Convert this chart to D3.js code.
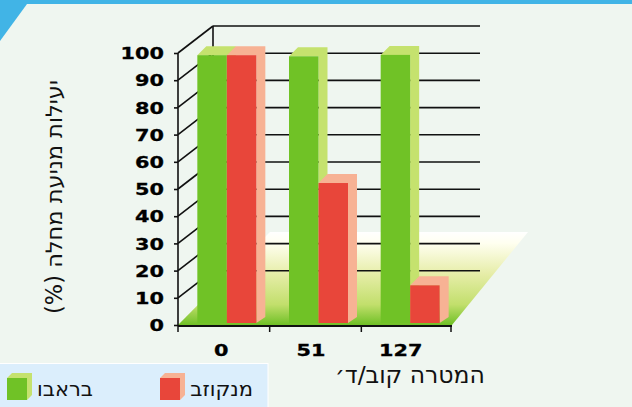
<!DOCTYPE html>
<html><head><meta charset="utf-8">
<script src="https://cdnjs.cloudflare.com/ajax/libs/d3/7.8.5/d3.min.js"></script>
<style>html,body{margin:0;padding:0;background:#eff6f0;overflow:hidden}svg{display:block}</style>
</head><body><svg id="c" width="632" height="407"></svg>
<script>
const categories = ["0", "51", "127"];
const seriesNames = ["בראבו", "מנקוזב"];
const bravo = [99.2, 98.8, 99.3];
const mancozeb = [99.2, 52.2, 14.6];
const yTicks = [0,10,20,30,40,50,60,70,80,90,100];
const yTitle = "יעילות מניעת מחלה (%)";
const xTitle = "המטרה קוב/ד׳";
const frontColors = ["#70c226", "#e8463a"];
const sideColors = ["#c5e26e", "#f7b294"];

const svg = d3.select("#c");
const font = "'DejaVu Sans', sans-serif";
const dx = 35, dy = 27, depth = 9;
const y = d3.scaleLinear().domain([0,100]).range([325,53]);
const x = d3.scaleBand().domain(categories).range([181,456]);
const inner = d3.scaleBand().domain([0,1]).range([x.bandwidth()/2-29.5, x.bandwidth()/2+29.5]);

// page chrome
svg.append("rect").attr("width",632).attr("height",407).attr("fill","#eff6f0");
svg.append("rect").attr("width",632).attr("height",4).attr("fill","#41b4e6");
svg.append("path").attr("d",d3.line()([[0,0],[27,0],[27,4],[0,41]])).attr("fill","#41b4e6");

// floor
const grad = svg.append("defs").append("linearGradient").attr("id","floor").attr("x1",0).attr("x2",0).attr("y1",0).attr("y2",1);
[[0,"#ffffff"],[0.12,"#fffff0"],[0.45,"#e6eda8"],[0.78,"#c2df6c"],[1,"#6fc026"]].forEach(s=>grad.append("stop").attr("offset",s[0]).attr("stop-color",s[1]));
svg.append("path").attr("d",d3.line()([[178,325],[452,325],[528,232],[270,232]]))
  .attr("fill","url(#floor)");

// back wall and gridlines
const grid = svg.append("g").attr("stroke","#111").attr("stroke-width",1.6).attr("fill","none");
grid.selectAll("line.h").data(yTicks.filter(d=>d>0)).join("line")
  .attr("x1",213).attr("x2",480)
  .attr("y1",d=>y(d)-dy).attr("y2",d=>y(d)-dy);
grid.selectAll("line.d").data(yTicks.filter(d=>d>0)).join("line")
  .attr("class","d").attr("x1",178).attr("x2",178+dx)
  .attr("y1",d=>y(d)).attr("y2",d=>y(d)-dy);
grid.append("line").attr("x1",213).attr("x2",213).attr("y1",y(100)-dy).attr("y2",y(0)-dy);

// y axis
const yAxis = d3.axisLeft(y).tickValues(yTicks).tickSize(4).tickPadding(0);
const gy = svg.append("g").attr("transform","translate(178,0)").call(yAxis);
gy.select(".domain").attr("stroke","#111").attr("stroke-width",1.6).attr("d","M0,53V325");
gy.selectAll(".tick line").attr("stroke","#111").attr("stroke-width",1.6);
gy.selectAll(".tick text")
  .attr("x",0).attr("dy",null).attr("dominant-baseline","central")
  .attr("text-anchor","end").attr("fill","#000")
  .attr("font-family",font).attr("font-weight","bold").attr("font-size",16)
  .attr("stroke","#000").attr("stroke-width",0.3)
  .attr("transform","translate(-14,0) scale(1.3,1)");

// bars
const groups = svg.selectAll("g.cat").data(categories).join("g").attr("class","cat")
  .attr("transform",d=>`translate(${x(d)},0)`);
[bravo,mancozeb].forEach((vals,s)=>{
  groups.each(function(c,i){
    const g = d3.select(this), v = vals[i], w = inner.bandwidth();
    const l = inner(s), r = l+w, top = y(v), bot = y(0)-2;
    g.append("path").attr("fill",sideColors[s])
      .attr("d",d3.line()([[l,top],[l+depth,top-depth],[r+depth,top-depth],[r+depth,bot-6],[r,bot],[r,top]]));
    g.append("rect").attr("x",l).attr("y",top).attr("width",w).attr("height",bot-top).attr("fill",frontColors[s]);
  });
});

// x axis
const tickXs = [178, ...categories.slice(1).map(c=>x(c)-3), 451];
svg.append("line").attr("x1",178).attr("x2",452).attr("y1",y(0)+1).attr("y2",y(0)+1).attr("stroke","#111").attr("stroke-width",2);
svg.selectAll("line.xt").data(tickXs).join("line").attr("class","xt")
  .attr("x1",d=>d).attr("x2",d=>d).attr("y1",y(0)).attr("y2",y(0)+7)
  .attr("stroke","#111").attr("stroke-width",1.5);
svg.selectAll("text.xl").data(categories).join("text").attr("class","xl")
  .attr("transform",(d,i)=>`translate(${x(d)+x.bandwidth()/2-5.5-2*i},356) scale(1.3,1)`)
  .attr("text-anchor","middle").attr("font-family",font).attr("font-weight","bold").attr("font-size",16)
  .attr("stroke","#000").attr("stroke-width",0.3)
  .attr("fill","#000").text(d=>d);

// titles
svg.append("text").attr("transform","translate(62,197) rotate(-90)")
  .attr("text-anchor","middle").attr("direction","rtl").attr("font-family",font).attr("font-size",22.5).attr("fill","#111")
  .text(yTitle);
svg.append("text").attr("x",410).attr("y",383).attr("text-anchor","middle").attr("direction","rtl")
  .attr("font-family",font).attr("font-size",23.5).attr("fill","#111").text(xTitle);

// legend
svg.append("rect").attr("x",-2).attr("y",363.5).attr("width",270).attr("height",50).attr("fill","#dbeefc").attr("stroke","#fff");
const legendX = d3.scalePoint().domain(seriesNames).range([7,160]);
const legendG = svg.selectAll("g.lg").data(seriesNames).join("g").attr("class","lg")
  .attr("transform",d=>`translate(${legendX(d)},378)`);
legendG.append("path").attr("fill",(d,i)=>sideColors[i]).attr("d",d3.line()([[0,0],[5,-5],[25,-5],[25,17],[20,22],[20,0]]));
legendG.append("rect").attr("width",20).attr("height",22).attr("fill",(d,i)=>frontColors[i]);
legendG.append("text").attr("x",(d,i)=>i?93:86).attr("y",18).attr("text-anchor","end").attr("direction","ltr")
  .attr("font-family",font).attr("font-size",21).attr("fill","#111").text(d=>d);
</script></body></html>
